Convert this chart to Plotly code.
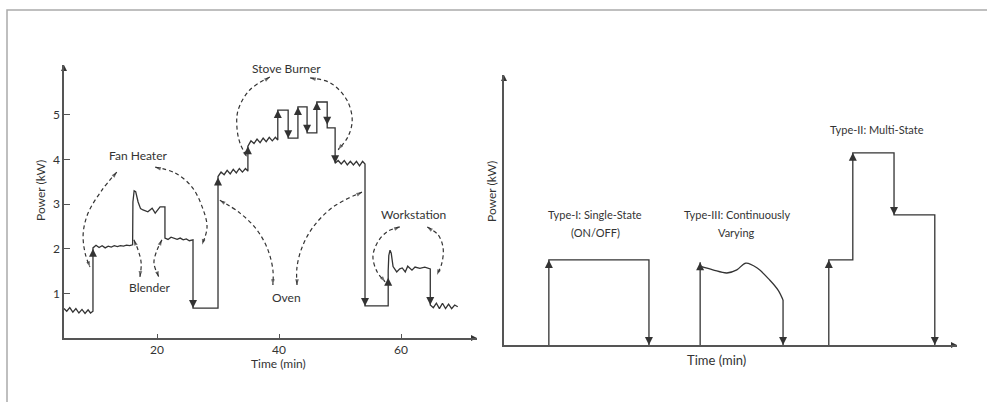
import plotly.graph_objects as go

INK = "#333333"
AXIS = "#555555"
FONT = "Lato"

# ---------------- Left panel: aggregate household power (kW) vs time (min) ----------------
agg_t = [4.75, 5.2, 5.7, 6.2, 6.7, 7.2, 7.7, 8.2, 8.7, 9.1, 9.5,
         9.5, 10.0, 10.5, 11.0, 11.5, 12.0, 12.5, 13.0, 13.5, 14.0, 14.5, 15.0, 15.5, 16.0,
         16.05, 16.25, 16.5, 16.9, 17.3, 17.7, 18.5, 19.2, 19.7, 20.5, 21.3,
         21.3, 21.8, 22.3, 22.8, 23.3, 23.8, 24.3, 24.8, 25.3, 25.9,
         25.9, 30.0, 30.0,
         30.5, 31.0, 31.5, 32.0, 32.5, 33.0, 33.5, 34.0, 34.5, 34.9,
         34.9, 35.4, 35.9, 36.4, 36.9, 37.4, 37.9, 38.4, 38.9, 39.4, 39.8,
         39.8, 41.5, 41.5, 43.1, 43.1, 44.6, 44.6, 46.2, 46.2, 47.9, 47.9, 49.2, 49.2,
         49.7, 50.2, 50.7, 51.2, 51.7, 52.2, 52.7, 53.2, 53.7, 54.1,
         54.1, 57.9, 57.9, 58.0, 58.2, 58.4, 58.7, 59.3, 59.8, 60.2, 60.7, 61.1, 61.8, 62.3, 63.1, 63.9, 64.8,
         64.8, 65.3, 65.8, 66.3, 66.8, 67.3, 67.8, 68.3, 68.8, 69.3]
agg_p = [0.66, 0.60, 0.68, 0.58, 0.66, 0.56, 0.64, 0.55, 0.63, 0.56, 0.60,
         2.02, 2.08, 2.03, 2.07, 2.02, 2.06, 2.04, 2.07, 2.05, 2.07, 2.06, 2.08, 2.07, 2.09,
         3.05, 3.30, 3.28, 3.05, 2.90, 2.87, 2.83, 2.91, 2.80, 2.94, 2.94,
         2.24, 2.21, 2.26, 2.23, 2.21, 2.24, 2.20, 2.22, 2.18, 2.20,
         0.67, 0.67, 3.62,
         3.72, 3.66, 3.76, 3.68, 3.78, 3.70, 3.80, 3.72, 3.80, 3.74,
         4.30, 4.42, 4.36, 4.46, 4.38, 4.48, 4.40, 4.50, 4.42, 4.50, 4.44,
         5.11, 5.11, 4.48, 4.48, 5.18, 5.18, 4.60, 4.60, 5.29, 5.29, 4.71, 4.71, 3.92,
         3.98, 3.90, 3.98, 3.88, 3.96, 3.88, 3.96, 3.86, 3.96, 3.90,
         0.72, 0.72, 1.50, 1.85, 1.97, 1.90, 1.60, 1.48, 1.55, 1.57, 1.48, 1.61, 1.52, 1.59, 1.56, 1.59, 1.55,
         0.74, 0.68, 0.78, 0.66, 0.78, 0.66, 0.76, 0.66, 0.74, 0.70]

# ON events (arrow tips pointing up) and OFF events (arrow tips pointing down)
on_t = [9.5, 30.0, 34.9, 39.8, 43.1, 46.2, 57.9]
on_p = [2.0, 3.6, 4.3, 5.11, 5.18, 5.29, 1.35]
off_t = [25.9, 41.5, 44.6, 47.9, 49.2, 54.1, 64.8]
off_p = [0.67, 4.48, 4.6, 4.78, 3.92, 0.72, 0.74]

# Dashed callout arcs (time, kW), each with arrowheads at both ends
arcs = {
    "fan_l": ([13.4, 11.0, 8.7, 7.9, 8.2, 9.0], [3.72, 3.32, 2.80, 2.35, 1.91, 1.59]),
    "fan_r": ([19.7, 22.95, 25.7, 27.4, 28.2, 27.4], [3.83, 3.70, 3.39, 2.94, 2.49, 2.09]),
    "blend_l": ([16.2, 16.9, 17.4, 17.2], [2.20, 1.97, 1.68, 1.37]),
    "blend_r": ([20.8, 20.0, 19.5, 20.3], [2.20, 1.97, 1.68, 1.37]),
    "stove_l": ([38.5, 35.2, 33.3, 33.1, 33.6, 34.75], [5.85, 5.56, 5.11, 4.73, 4.37, 4.06]),
    "stove_r": ([45.1, 48.4, 51.1, 52.0, 51.3, 49.7], [5.83, 5.72, 5.34, 4.89, 4.51, 4.22]),
    "oven_l": ([30.3, 33.6, 36.4, 38.2, 39.0, 39.0], [3.09, 2.80, 2.42, 1.97, 1.52, 1.19]),
    "oven_r": ([42.95, 42.95, 43.8, 45.6, 48.9, 53.6], [1.19, 1.59, 2.04, 2.49, 2.94, 3.27]),
    "work_l": ([59.8, 57.7, 56.1, 55.4, 56.1, 57.4], [2.49, 2.38, 2.13, 1.82, 1.48, 1.26]),
    "work_r": ([64.3, 66.1, 66.9, 66.7, 65.9], [2.49, 2.31, 2.02, 1.68, 1.41]),
}

left_labels = ["Fan Heater", "Blender", "Stove Burner", "Oven", "Workstation"]
left_label_t = [16.9, 18.85, 41.3, 41.3, 62.0]
left_label_p = [4.10, 1.14, 6.05, 0.90, 2.76]

x_ticks = [20, 40, 60]
y_ticks = [1, 2, 3, 4, 5]

# ---------------- Right panel: load signature types ----------------
t1_x = [0.99, 0.99, 3.2, 3.2]
t1_y = [0.0, 1.89, 1.89, 0.0]
t3_on_x = [4.33, 4.33]
t3_on_y = [0.0, 1.84]
t3_curve_x = [4.36, 4.61, 4.92, 5.14, 5.34, 5.59, 5.87, 6.05, 6.16]
t3_curve_y = [1.74, 1.67, 1.60, 1.67, 1.82, 1.71, 1.44, 1.22, 1.00]
t3_off_x = [6.16, 6.16]
t3_off_y = [1.00, 0.0]
t2_x = [7.17, 7.17, 7.7, 7.7, 8.61, 8.61, 9.51, 9.51]
t2_y = [0.0, 1.89, 1.89, 4.27, 4.27, 2.89, 2.89, 0.0]
r_on_x = [0.99, 4.33, 7.17, 7.7]
r_on_y = [1.89, 1.84, 1.89, 4.27]
r_off_x = [3.2, 6.16, 8.61, 9.51]
r_off_y = [0.0, 0.0, 2.89, 0.0]

right_labels = ["Type-I: Single-State", "(ON/OFF)", "Type-III: Continuously", "Varying", "Type-II: Multi-State"]
right_label_x = [2.01, 2.01, 5.14, 5.14, 8.23]
right_label_y = [2.89, 2.51, 2.89, 2.49, 4.80]

LX, LY = [4.75, 72.46], [0, 6.12]
RX, RY = [0, 10], [0, 6]

fig = go.Figure()


def line(x, y, xa, ya, dash=None, width=1.3, shape="linear"):
    fig.add_trace(go.Scatter(x=x, y=y, xaxis=xa, yaxis=ya, mode="lines",
                             line=dict(color=INK, width=width, dash=dash, shape=shape),
                             hoverinfo="skip", showlegend=False, cliponaxis=False))


def heads(x, y, xa, ya, symbol, size=8):
    fig.add_trace(go.Scatter(x=x, y=y, xaxis=xa, yaxis=ya, mode="markers",
                             marker=dict(symbol=symbol, size=size, color=INK, line=dict(width=0)),
                             hoverinfo="skip", showlegend=False, cliponaxis=False))


def dir_head(p_from, p_to, xa, ya, size=6):
    fig.add_trace(go.Scatter(x=[p_from[0], p_to[0]], y=[p_from[1], p_to[1]], xaxis=xa, yaxis=ya,
                             mode="markers",
                             marker=dict(symbol="arrow", size=[0, size], angleref="previous",
                                         color=INK, line=dict(width=0)),
                             hoverinfo="skip", showlegend=False, cliponaxis=False))


# left panel
line(agg_t, agg_p, "x", "y")
heads(on_t, on_p, "x", "y", "arrow-up")
heads(off_t, off_p, "x", "y", "arrow-down")
for xs, ys in arcs.values():
    line(xs, ys, "x", "y", dash="4px,3px", width=1.2, shape="spline")
    dir_head((xs[1], ys[1]), (xs[0], ys[0]), "x", "y")
    dir_head((xs[-2], ys[-2]), (xs[-1], ys[-1]), "x", "y")
heads([LX[0]], [LY[1]], "x", "y", "arrow-up", 6)
heads([LX[1]], [LY[0]], "x", "y", "arrow-right", 6)

# right panel
line(t1_x, t1_y, "x2", "y2")
line(t3_on_x, t3_on_y, "x2", "y2")
line(t3_curve_x, t3_curve_y, "x2", "y2", shape="spline")
line(t3_off_x, t3_off_y, "x2", "y2")
line(t2_x, t2_y, "x2", "y2")
heads(r_on_x, r_on_y, "x2", "y2", "arrow-up")
heads(r_off_x, r_off_y, "x2", "y2", "arrow-down")
heads([RX[0]], [RY[1]], "x2", "y2", "arrow-up", 6)
heads([RX[1]], [RY[0]], "x2", "y2", "arrow-right", 6)

annotations = []
for txt, tx, ty in zip(left_labels, left_label_t, left_label_p):
    annotations.append(dict(text=txt, x=tx, y=ty, xref="x", yref="y", showarrow=False,
                            xanchor="center", yanchor="middle",
                            font=dict(family=FONT, size=12, color=INK)))
for txt, tx, ty in zip(right_labels, right_label_x, right_label_y):
    annotations.append(dict(text=txt, x=tx, y=ty, xref="x2", yref="y2", showarrow=False,
                            xanchor="center", yanchor="middle",
                            font=dict(family=FONT, size=11, color=INK)))
titles = [
    ("Time (min)", 278, 363, 0, 12),
    ("Power (kW)", 40, 191, -90, 12),
    ("Time (min)", 716, 360, 0, 13),
    ("Power (kW)", 491, 192, -90, 12),
]
for txt, px, py, ang, fs in titles:
    annotations.append(dict(text=txt, x=px / 987, y=1 - py / 402, xref="paper", yref="paper",
                            textangle=ang, xanchor="center", yanchor="middle", showarrow=False,
                            font=dict(family=FONT, size=fs, color=INK)))

axis_common = dict(showline=True, linecolor=AXIS, linewidth=1.5, showgrid=False, zeroline=False)

fig.update_layout(
    width=987, height=402,
    margin=dict(l=0, r=0, t=0, b=0),
    paper_bgcolor="white", plot_bgcolor="white",
    showlegend=False,
    xaxis=dict(domain=[64 / 987, 477 / 987], range=LX, anchor="y", tickvals=x_ticks,
               ticks="inside", ticklen=4, tickwidth=1.2, tickcolor=AXIS,
               tickfont=dict(family=FONT, size=12, color=INK), **axis_common),
    yaxis=dict(domain=[1 - 338 / 402, 1 - 65 / 402], range=LY, anchor="x", tickvals=y_ticks,
               ticks="inside", ticklen=6, tickwidth=1.2, tickcolor=AXIS,
               tickfont=dict(family=FONT, size=12, color=INK), **axis_common),
    xaxis2=dict(domain=[504 / 987, 957 / 987], range=RX, anchor="y2", showticklabels=False,
                ticks="", **axis_common),
    yaxis2=dict(domain=[1 - 345 / 402, 1 - 75 / 402], range=RY, anchor="x2", showticklabels=False,
                ticks="", **axis_common),
    annotations=annotations,
    shapes=[dict(type="path", xref="paper", yref="paper",
                 path=f"M {7/987},0 L {7/987},{1-10/402} L 1,{1-10/402}",
                 line=dict(color="#aaaaaa", width=1.5))],
)

fig.write_html("out.html", config={"displayModeBar": False},
               post_script="document.body.style.margin='0';document.body.style.overflow='hidden';")
